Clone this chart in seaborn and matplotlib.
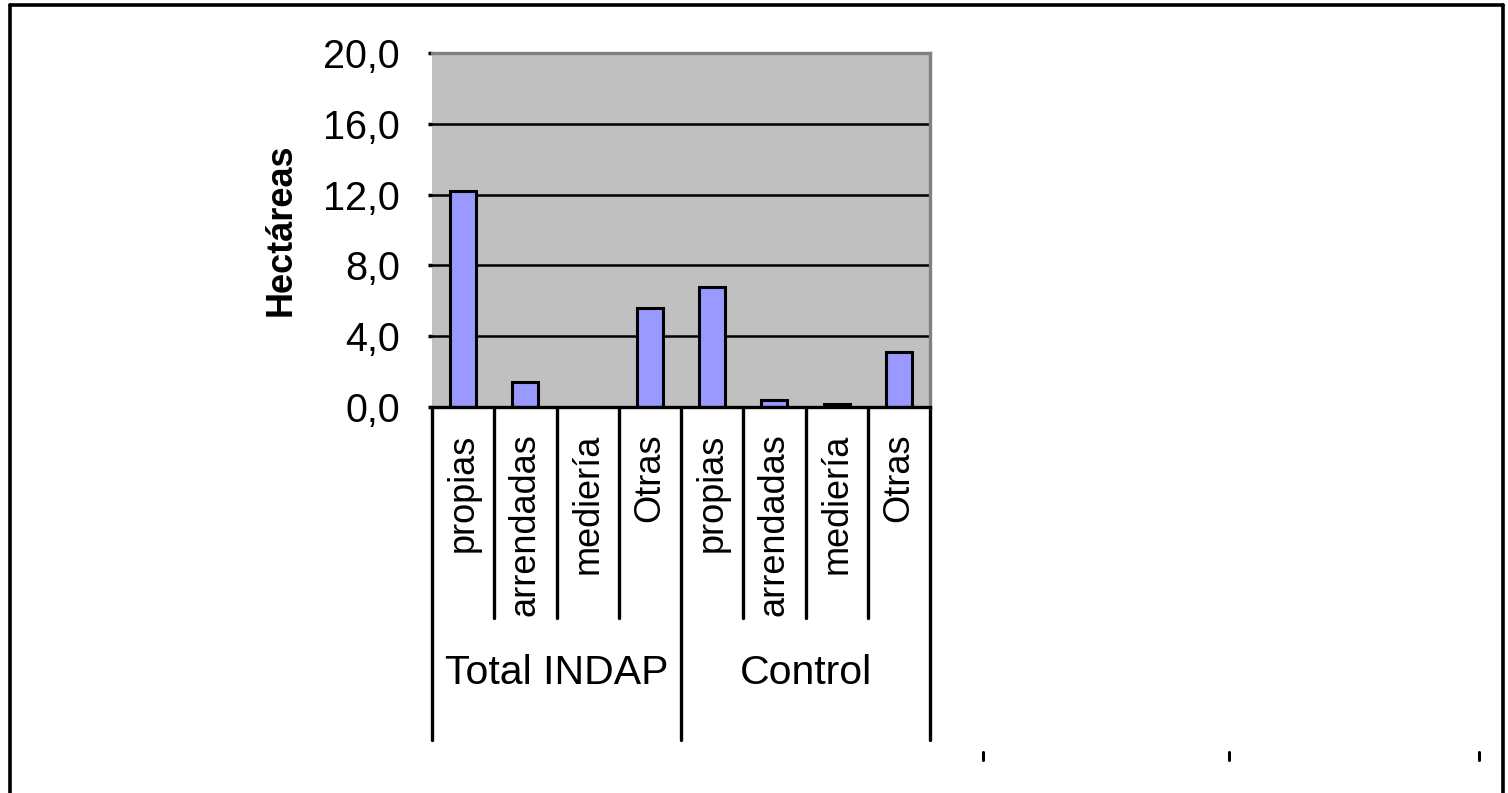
import numpy as np
import pandas as pd
import matplotlib
matplotlib.use("Agg")
import matplotlib.pyplot as plt
import matplotlib.transforms as mtransforms
from matplotlib.lines import Line2D
import seaborn as sns

# data
grupos = ["Total INDAP", "Control"]
tipos = ["propias", "arrendadas", "mediería", "Otras"]
hectareas_indap = [12.2, 1.4, 0.0, 5.6]
hectareas_control = [6.8, 0.4, 0.15, 3.1]
yticks = [0, 4, 8, 12, 16, 20]

df = pd.DataFrame({
    "grupo": [g for g in grupos for _ in tipos],
    "tipo": tipos * len(grupos),
    "ha": hectareas_indap + hectareas_control,
})
df["clave"] = df["grupo"] + "|" + df["tipo"]

sns.set_theme(style="white")
plt.rcParams["font.family"] = ["Liberation Sans", "DejaVu Sans"]

fig = plt.figure(figsize=(15.08, 7.93), dpi=100)
ax = fig.add_axes([432 / 1508, 1 - 407 / 793, (930 - 432) / 1508, (407 - 53) / 793])
ax.set_facecolor("#C0C0C0")

sns.barplot(data=df, x="clave", y="ha", order=list(df["clave"]), color="#9999FF",
            saturation=1, width=0.42, edgecolor="black", linewidth=2.2, ax=ax, zorder=3)

ax.set_xlim(-0.5, len(df) - 0.5)
ax.set_ylim(0, 20)
ax.set_yticks(yticks)
ax.set_yticklabels([f"{v:.1f}".replace(".", ",") for v in yticks], fontsize=28.5, color="black")
ax.tick_params(axis="y", length=3, width=2.5, color="black", pad=20, left=True)
ax.set_xticks([])
ax.set_xlabel("")
ax.set_ylabel("Hectáreas", fontsize=26, fontweight="bold", labelpad=18, color="black")

for v in yticks[1:-1]:
    ax.axhline(v, color="black", lw=1.8, zorder=1)

ax.spines["left"].set_visible(False)
ax.spines["bottom"].set_color("black")
ax.spines["bottom"].set_linewidth(2.4)
ax.spines["bottom"].set_zorder(5)
for s in ["top", "right"]:
    ax.spines[s].set_color("#808080")
    ax.spines[s].set_linewidth(2.4)

# category axis below the plot
trans = mtransforms.blended_transform_factory(ax.transData, ax.transAxes)
n = len(df)
for i in range(n + 1):
    x = i - 0.5
    bajo = -0.941 if i % len(tipos) == 0 else -0.596
    ax.plot([x, x], [0, bajo], color="black", lw=2.4, transform=trans, clip_on=False)

for i, t in enumerate(df["tipo"]):
    ax.text(i, -0.075, t, rotation=90, ha="center", va="top", fontsize=26,
            color="black", transform=trans)

for j, g in enumerate(grupos):
    centro = j * len(tipos) + (len(tipos) - 1) / 2
    ax.text(centro, -0.75, g, ha="center", va="center", fontsize=29.5,
            color="black", transform=trans)

# outer frame and stray marks
fig.add_artist(Line2D([10 / 1508, 10 / 1508], [0, 1 - 5 / 793], color="black", lw=2.6))
fig.add_artist(Line2D([10 / 1508, 1503 / 1508], [1 - 5 / 793, 1 - 5 / 793], color="black", lw=2.6))
fig.add_artist(Line2D([1503 / 1508, 1503 / 1508], [0, 1 - 5 / 793], color="black", lw=2.6))
for px in [983, 1229, 1479]:
    fig.add_artist(Line2D([px / 1508, px / 1508], [1 - 752 / 793, 1 - 760 / 793], color="black", lw=2.2))

fig.savefig("out.png", dpi=100, facecolor="white")
